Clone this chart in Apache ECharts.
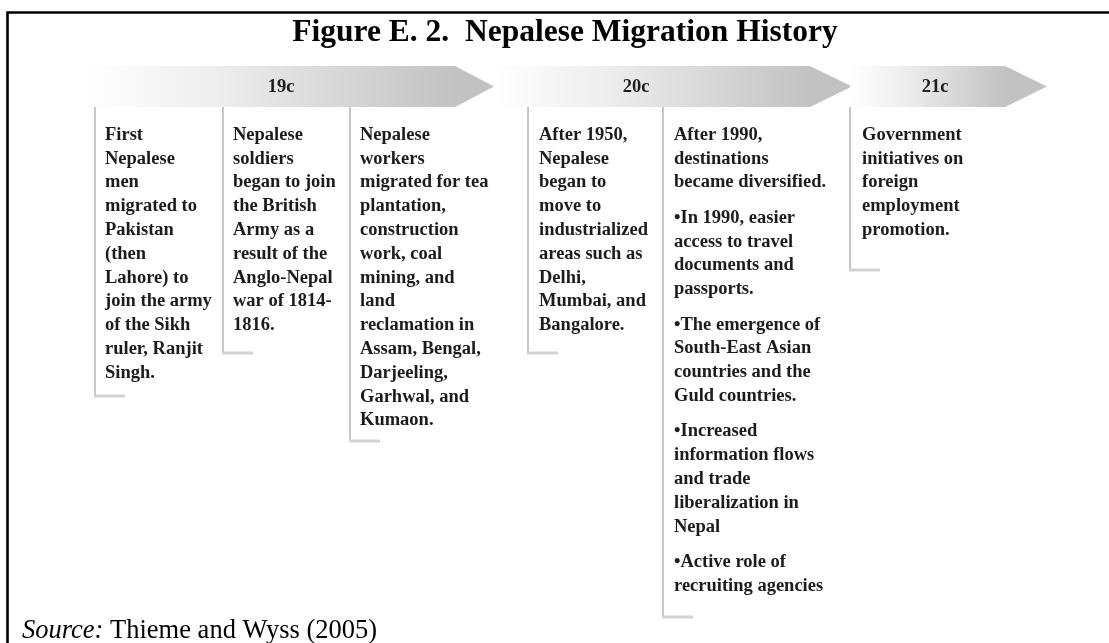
<!DOCTYPE html>
<html>
<head>
<meta charset="utf-8">
<script src="https://cdn.jsdelivr.net/npm/echarts@6/dist/echarts.min.js"></script>
<style>
html,body{margin:0;padding:0;background:#ffffff;}
#chart{width:1109px;height:643px;}
</style>
</head>
<body>
<div id="chart"></div>
<script>
// ---- content ----
const titleText = 'Figure E. 2.  Nepalese Migration History';
const sourceLabel = 'Source:';
const sourceText = ' Thieme and Wyss (2005)';
const eras = ['19c', '20c', '21c'];

const col1 = ['First', 'Nepalese', 'men', 'migrated to', 'Pakistan', '(then', 'Lahore) to', 'join the army', 'of the Sikh', 'ruler, Ranjit', 'Singh.'];
const col2 = ['Nepalese', 'soldiers', 'began to join', 'the British', 'Army as a', 'result of the', 'Anglo-Nepal', 'war of 1814-', '1816.'];
const col3 = ['Nepalese', 'workers', 'migrated for tea', 'plantation,', 'construction', 'work, coal', 'mining, and', 'land', 'reclamation in', 'Assam, Bengal,', 'Darjeeling,', 'Garhwal, and', 'Kumaon.'];
const col4 = ['After 1950,', 'Nepalese', 'began to', 'move to', 'industrialized', 'areas such as', 'Delhi,', 'Mumbai, and', 'Bangalore.'];
const col5 = [
  ['After 1990,', 'destinations', 'became diversified.'],
  ['\u2022In 1990, easier', 'access to travel', 'documents and', 'passports.'],
  ['\u2022The emergence of', 'South-East Asian', 'countries and the', 'Guld countries.'],
  ['\u2022Increased', 'information flows', 'and trade', 'liberalization in', 'Nepal'],
  ['\u2022Active role of', 'recruiting agencies']
];
const col6 = ['Government', 'initiatives on', 'foreign', 'employment', 'promotion.'];
const columns = [[col1], [col2], [col3], [col4], col5, [col6]];

// ---- layout (positions in the diagram's own units) ----
const layout = {
  arrowStart: [85, 494, 850],
  arrowBodyEnd: [455, 810, 1005],
  arrowTip: [494, 852, 1047],
  arrowLabelX: [281, 636, 935],
  arrowTop: 66,
  arrowBottom: 107,
  colLineX: [95, 223, 350, 528, 663, 850],
  colTextX: [105, 233, 360, 539, 674, 862],
  colBottomY: [396, 353, 441, 353, 617, 270],
  colTopY: 107,
  firstLineY: 135,
  lineStep: 23.8,
  paraGap: 11.6,
  footLen: 30
};

const textFont = 'bold 18.5px "Liberation Serif", "Times New Roman", serif';

function renderArrow(params, api) {
  const i = params.dataIndex;
  const L = layout;
  const mid = (L.arrowTop + L.arrowBottom) / 2;
  const pts = [
    [L.arrowStart[i], L.arrowTop],
    [L.arrowBodyEnd[i], L.arrowTop],
    [L.arrowTip[i], mid],
    [L.arrowBodyEnd[i], L.arrowBottom],
    [L.arrowStart[i], L.arrowBottom]
  ].map(p => api.coord(p));
  const frac = (L.arrowBodyEnd[i] - L.arrowStart[i]) / (L.arrowTip[i] - L.arrowStart[i]);
  const c = api.coord([L.arrowLabelX[i], mid]);
  return {
    type: 'group',
    children: [
      {
        type: 'polygon',
        shape: { points: pts },
        style: {
          fill: {
            type: 'linear', x: 0, y: 0, x2: 1, y2: 0,
            colorStops: [
              { offset: 0, color: '#ffffff' },
              { offset: frac * 0.35, color: '#eeeeee' },
              { offset: frac, color: '#c2c2c2' },
              { offset: 1, color: '#c2c2c2' }
            ]
          }
        }
      },
      {
        type: 'text',
        style: {
          text: eras[i],
          x: c[0], y: c[1] + 1,
          align: 'center', verticalAlign: 'middle',
          font: 'bold 18.5px "Liberation Serif", "Times New Roman", serif',
          fill: '#1e1e1e'
        }
      }
    ]
  };
}

function renderColumn(params, api) {
  const i = params.dataIndex;
  const L = layout;
  const children = [];
  const top = api.coord([L.colLineX[i], L.colTopY]);
  const bot = api.coord([L.colLineX[i], L.colBottomY[i]]);
  const foot = api.coord([L.colLineX[i] + L.footLen, L.colBottomY[i]]);
  children.push({
    type: 'line',
    shape: { x1: top[0], y1: top[1], x2: bot[0], y2: bot[1] },
    style: { stroke: '#c6c6c6', lineWidth: 2 }
  });
  children.push({
    type: 'line',
    shape: { x1: bot[0] - 1, y1: bot[1], x2: foot[0], y2: foot[1] },
    style: { stroke: '#d2d2d2', lineWidth: 3 }
  });
  let y = L.firstLineY;
  const paras = columns[i];
  paras.forEach((para, pi) => {
    if (pi > 0) y += L.paraGap;
    para.forEach((line) => {
      const p = api.coord([L.colTextX[i], y]);
      children.push({
        type: 'text',
        style: {
          text: line, x: p[0], y: p[1],
          align: 'left', verticalAlign: 'middle',
          font: textFont, fill: '#1c1c1c'
        }
      });
      y += L.lineStep;
    });
    y -= 0;
  });
  // correct: step added after each line; the gap handled above
  return { type: 'group', children: children };
}

const chart = echarts.init(document.getElementById('chart'));
chart.setOption({
  animation: false,
  backgroundColor: '#ffffff',
  grid: { left: 0, right: 0, top: 0, bottom: 0 },
  xAxis: { type: 'value', min: 0, max: 1109, show: false },
  yAxis: { type: 'value', min: 0, max: 643, inverse: true, show: false },
  graphic: [
    {
      type: 'polyline',
      shape: { points: [[7.5, 643], [7.5, 12.5], [1109, 12.5]] },
      style: { stroke: '#000000', lineWidth: 2.6, fill: null }
    },
    {
      type: 'text',
      x: 565, y: 33,
      style: {
        text: titleText,
        align: 'center', verticalAlign: 'middle',
        font: 'bold 31.5px "Liberation Serif", "Times New Roman", serif',
        fill: '#000000'
      }
    },
    {
      type: 'text',
      x: 22, y: 631,
      style: {
        text: '{i|' + sourceLabel + '}' + sourceText,
        align: 'left', verticalAlign: 'middle',
        font: '26.5px "Liberation Serif", "Times New Roman", serif',
        fill: '#000000',
        rich: {
          i: { fontStyle: 'italic', fontSize: 26.5, fontFamily: '"Liberation Serif", "Times New Roman", serif', fill: '#000000' }
        }
      }
    }
  ],
  series: [
    {
      type: 'custom',
      name: 'eras',
      coordinateSystem: 'cartesian2d',
      data: eras.map((e, i) => [i, 0]),
      renderItem: renderArrow,
      silent: true
    },
    {
      type: 'custom',
      name: 'events',
      coordinateSystem: 'cartesian2d',
      data: columns.map((c, i) => [i, 0]),
      renderItem: renderColumn,
      silent: true
    }
  ]
});
</script>
</body>
</html>
